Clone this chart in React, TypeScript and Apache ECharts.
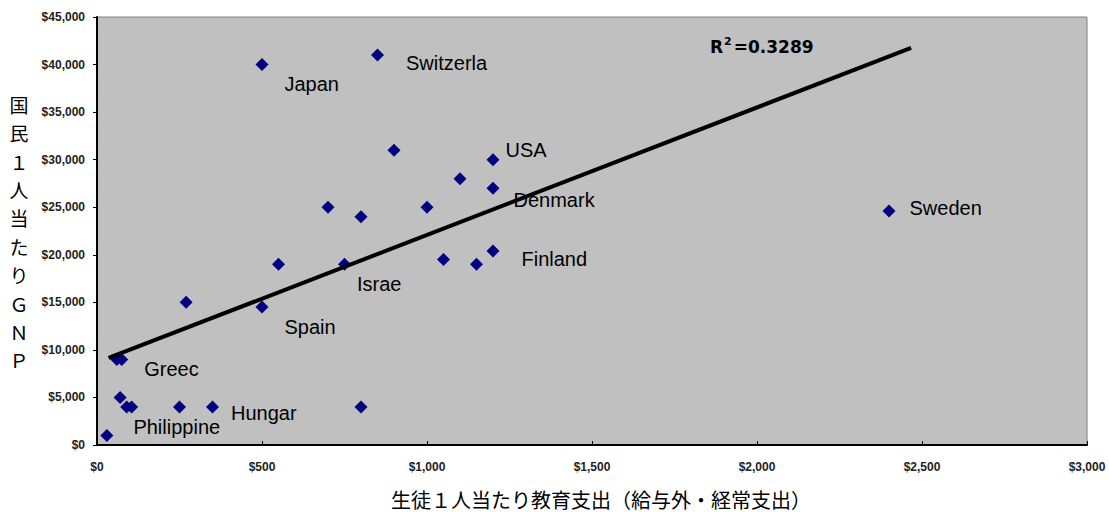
import React, { useEffect, useRef } from "react";
import * as echarts from "echarts";

// [spending per student (USD), GNP per capita (USD)]
const points: [number, number][] = [
  [30, 1000],
  [60, 9000],
  [75, 9000],
  [70, 5000],
  [90, 4000],
  [105, 4000],
  [250, 4000],
  [350, 4000],
  [270, 15000],
  [500, 14500],
  [500, 40000],
  [550, 19000],
  [700, 25000],
  [750, 19000],
  [800, 24000],
  [850, 41000],
  [900, 31000],
  [1000, 25000],
  [1050, 19500],
  [1100, 28000],
  [1150, 19000],
  [1200, 30000],
  [1200, 27000],
  [1200, 20400],
  [800, 4000],
  [2400, 24600],
];

// country labels attached to point index, with label offset (px)
const countryLabels: { idx: number; name: string; dx: number; dy: number }[] = [
  { idx: 10, name: "Japan", dx: 22, dy: 19 },
  { idx: 15, name: "Switzerla", dx: 28, dy: 8 },
  { idx: 21, name: "USA", dx: 12, dy: -10 },
  { idx: 22, name: "Denmark", dx: 20, dy: 12 },
  { idx: 23, name: "Finland", dx: 28, dy: 8 },
  { idx: 25, name: "Sweden", dx: 20, dy: -3 },
  { idx: 13, name: "Israe", dx: 12, dy: 20 },
  { idx: 9, name: "Spain", dx: 22, dy: 20 },
  { idx: 2, name: "Greec", dx: 22, dy: 10 },
  { idx: 7, name: "Hungar", dx: 18, dy: 6 },
  { idx: 0, name: "Philippine", dx: 26, dy: -8 },
];

const trendLine: [number, number][] = [
  [35, 9150],
  [2467, 41750],
];

const rSquared = "0.3289";
const xTitle = "生徒１人当たり教育支出（給与外・経常支出）";
const yTitleChars = ["国", "民", "１", "人", "当", "た", "り", "Ｇ", "Ｎ", "Ｐ"];

const fmtDollar = (v: number) => "$" + v.toLocaleString("en-US");

export default function App() {
  const ref = useRef<HTMLDivElement>(null);

  useEffect(() => {
    if (!ref.current) return;
    const chart = echarts.init(ref.current, null, { renderer: "svg" });

    const data = points.map((p, i) => {
      const lab = countryLabels.find((c) => c.idx === i);
      if (!lab) return { value: p };
      return {
        value: p,
        label: {
          show: true,
          formatter: lab.name,
          position: "right",
          distance: 0,
          offset: [lab.dx - 6, lab.dy],
          color: "#000",
          fontSize: 20,
          fontFamily: "Liberation Sans",
          align: "left",
          verticalAlign: "middle",
        },
      };
    });

    const labelFont = {
      fontFamily: "Liberation Sans",
      fontWeight: "bold" as const,
      fontSize: 12,
      color: "#222",
    };

    chart.setOption({
      animation: false,
      backgroundColor: "#ffffff",
      grid: {
        left: 97,
        top: 17,
        right: 22,
        bottom: 67,
        show: true,
        backgroundColor: "#c0c0c0",
        borderColor: "#808080",
        borderWidth: 1,
      },
      xAxis: {
        type: "value",
        min: 0,
        max: 3000,
        interval: 500,
        axisLine: { show: true, onZero: false, lineStyle: { color: "#000", width: 2 } },
        axisTick: { show: true, inside: true, length: 4, lineStyle: { color: "#000" } },
        axisLabel: { ...labelFont, margin: 16, formatter: (v: number) => fmtDollar(v) },
        splitLine: { show: false },
      },
      yAxis: {
        type: "value",
        min: 0,
        max: 45000,
        interval: 5000,
        axisLine: { show: true, onZero: false, lineStyle: { color: "#000", width: 2 } },
        axisTick: { show: true, inside: false, length: 4, lineStyle: { color: "#000" } },
        axisLabel: { ...labelFont, margin: 12, formatter: (v: number) => fmtDollar(v) },
        splitLine: { show: false },
      },
      series: [
        {
          type: "scatter",
          symbol: "diamond",
          symbolSize: 13,
          itemStyle: { color: "#000080", opacity: 1 },
          data,
          z: 3,
        },
        {
          type: "line",
          data: trendLine,
          showSymbol: false,
          symbol: "none",
          lineStyle: { color: "#000", width: 4 },
          z: 4,
          label: { show: false },
        },
      ],
      graphic: [
        {
          type: "text",
          left: 710,
          top: 36,
          style: {
            text: "{a|R}{s|2}{a|=" + rSquared + "}",
            rich: {
              a: { fontFamily: "DejaVu Sans", fontWeight: "bold", fontSize: 17, fill: "#000", verticalAlign: "bottom" },
              s: { fontFamily: "DejaVu Sans", fontWeight: "bold", fontSize: 11, fill: "#000", verticalAlign: "top", padding: [0, 2, 8, 1] },
            },
          },
          z: 10,
        },
        {
          type: "text",
          x: 601,
          y: 499,
          style: {
            text: xTitle,
            fontFamily: "Noto Sans CJK JP",
            fontSize: 20,
            fill: "#000",
            align: "center",
            verticalAlign: "middle",
          },
        },
        {
          type: "text",
          x: 19,
          y: 232,
          style: {
            text: yTitleChars.join("\n"),
            fontFamily: "Noto Sans CJK JP",
            fontSize: 19,
            lineHeight: 28.4,
            fill: "#000",
            align: "center",
            verticalAlign: "middle",
          },
        },
      ],
    });

    return () => chart.dispose();
  }, []);

  return (
    <div
      ref={ref}
      style={{ position: "fixed", left: 0, top: 0, width: 1109, height: 512 }}
    />
  );
}
